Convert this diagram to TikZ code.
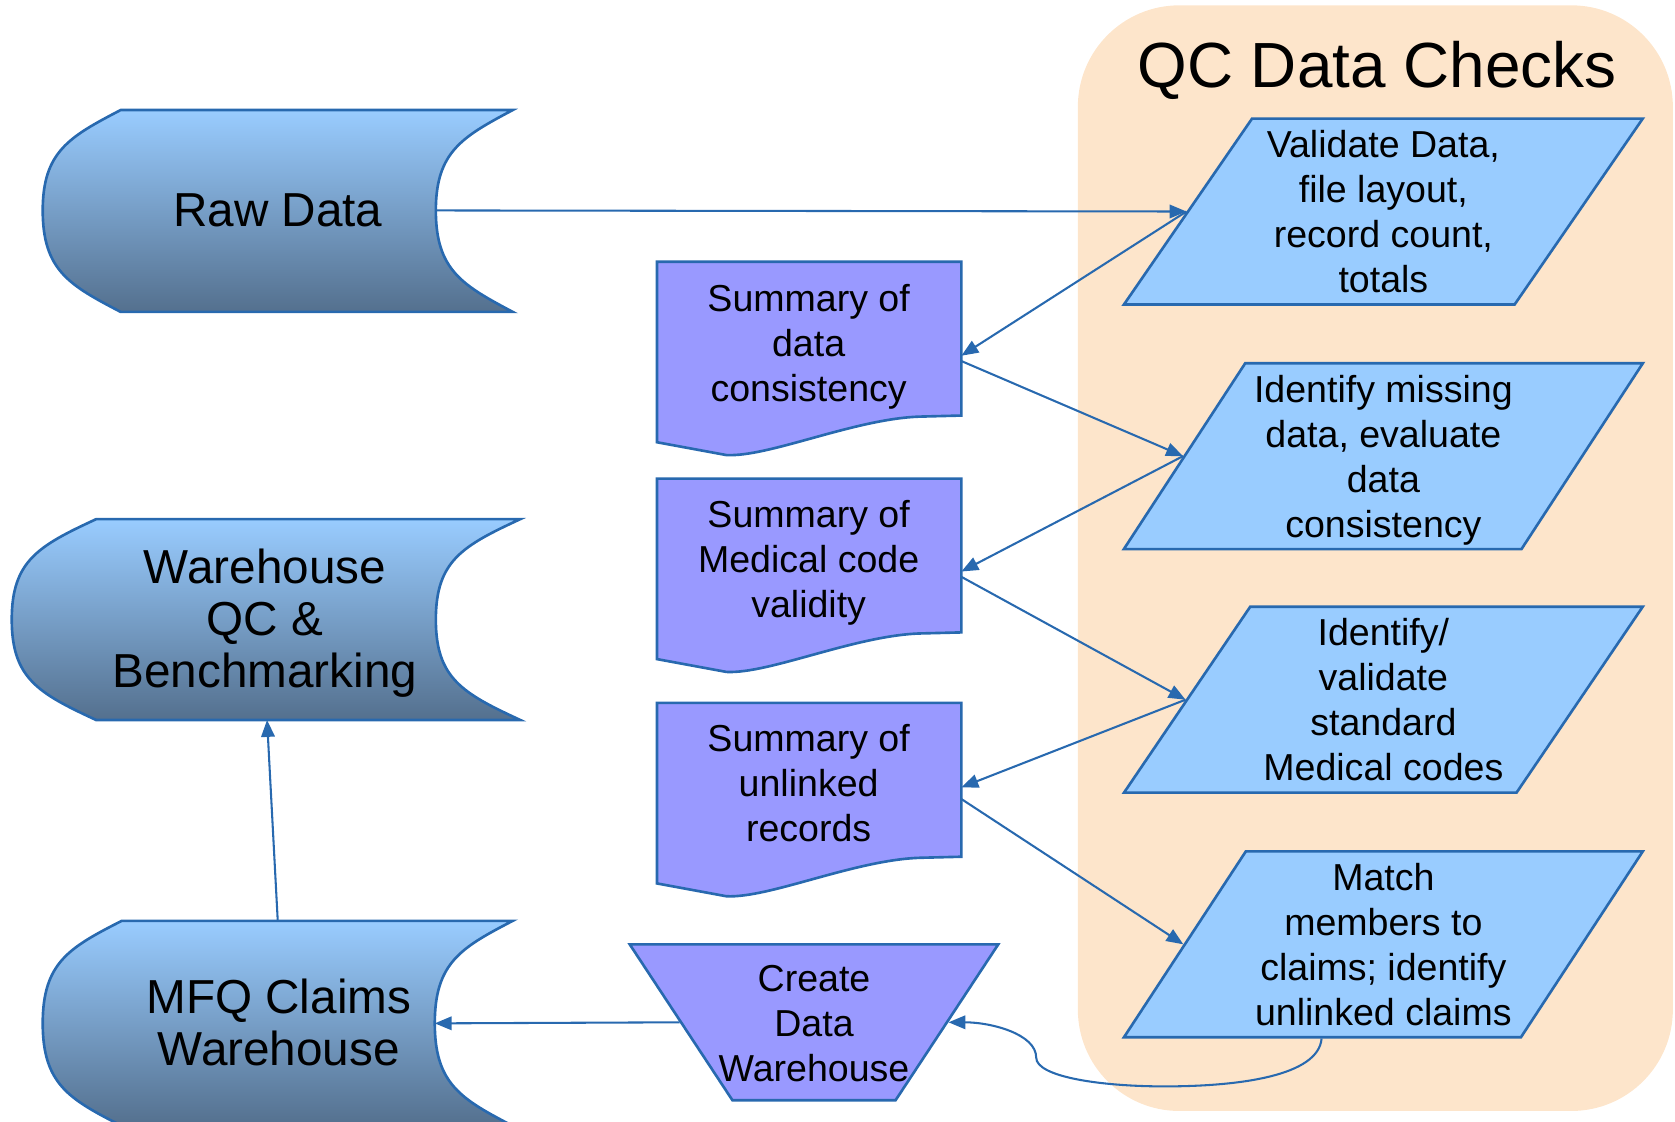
\documentclass[tikz,border=0pt]{standalone}
\usepackage{fontspec}
\setmainfont{Liberation Sans}
\usetikzlibrary{shapes.geometric,arrows.meta}

\definecolor{edge}{RGB}{40,105,175}
\definecolor{checkfill}{RGB}{153,204,255}
\definecolor{docfill}{RGB}{153,153,255}
\definecolor{qcback}{RGB}{253,229,203}
\definecolor{storetop}{RGB}{153,204,255}
\definecolor{storebot}{RGB}{84,112,142}

\tikzset{
  conn/.style={draw=edge, line width=0.55pt, -{Triangle[length=4.5pt,width=3.6pt]}},
  store/.style={draw=edge, line width=0.7pt, top color=storetop, bottom color=storebot},
  doc/.style={draw=edge, line width=0.7pt, fill=docfill},
  check/.style={trapezium, trapezium left angle=55, trapezium right angle=125,
    trapezium stretches=true, minimum width=48.6mm, minimum height=17.4mm,
    inner sep=0pt, text depth=0pt, draw=edge, line width=0.7pt, fill=checkfill,
    align=center, font=\fontsize{10}{12}\selectfont},
  big/.style={align=center, text depth=0pt, font=\fontsize{12.7}{13.8}\selectfont},
  small/.style={align=center, text depth=0pt, font=\fontsize{10}{12}\selectfont},
}

\begin{document}
\begin{tikzpicture}[x=0.1mm, y=-0.1mm]
  \useasboundingbox (0,0) rectangle (1568,1050);

  % QC panel
  \fill[qcback, rounded corners=9.5mm] (1009,5) rectangle (1566,1040);
  \node[text depth=0pt, font=\fontsize{17}{20}\selectfont] (qctitle) at (1289,60) {QC Data Checks};

  % data stores
  \path[store] (113,103) -- (480,103) .. controls (433,128) and (408,142) .. (408,197)
    .. controls (408,253) and (433,267) .. (480,292) -- (113,292)
    .. controls (65,267) and (40,253) .. (40,197) .. controls (40,142) and (65,128) .. (113,103) -- cycle;
  \path[store] (90,486) -- (487,486) .. controls (433,511) and (408,525) .. (408,580)
    .. controls (408,635) and (433,649) .. (487,674) -- (90,674)
    .. controls (36,649) and (11,635) .. (11,580) .. controls (11,525) and (36,511) .. (90,486) -- cycle;
  \path[store] (114,862) -- (480,862) .. controls (432,887) and (407,901) .. (407,958)
    .. controls (407,1015) and (432,1029) .. (480,1054) -- (114,1054)
    .. controls (65,1029) and (40,1015) .. (40,958) .. controls (40,901) and (65,887) .. (114,862) -- cycle;
  \node[big] (raw) at (260,197) {Raw Data};
  \node[big] (whqc) at (248,579) {Warehouse\\QC \&\\Benchmarking};
  \node[big] (mfq) at (261,957) {MFQ Claims\\Warehouse};
  \coordinate (rawport) at (408,197);
  \coordinate (whqcport) at (250,674);
  \coordinate (mfqtop) at (260,862);
  \coordinate (mfqport) at (407,958);

  % summary documents
  \filldraw[doc] (615,245) -- (900,245) -- (900,389) -- (861,390)
    .. controls (800,392) and (720,428) .. (680,426) -- (615,414) -- cycle;
  \filldraw[doc, shift={(0,203)}] (615,245) -- (900,245) -- (900,389) -- (861,390)
    .. controls (800,392) and (720,428) .. (680,426) -- (615,414) -- cycle;
  \filldraw[doc, shift={(0,413)}] (615,245) -- (900,245) -- (900,389) -- (861,390)
    .. controls (800,392) and (720,428) .. (680,426) -- (615,414) -- cycle;
  \node[small] (sum1) at (757,321) {Summary of\\data\\consistency};
  \node[small] (sum2) at (757,523) {Summary of\\Medical code\\validity};
  \node[small] (sum3) at (757,733) {Summary of\\unlinked\\records};
  \coordinate (sum1in) at (900,333);
  \coordinate (sum1out) at (900,338);
  \coordinate (sum2in) at (900,535);
  \coordinate (sum2out) at (900,540);
  \coordinate (sum3in) at (900,737);
  \coordinate (sum3out) at (900,748);

  % checks
  \node[check] (chk1) at (1295,198) {Validate Data,\\file layout,\\record count,\\totals};
  \node[check] (chk2) at (1295,427) {Identify missing\\data, evaluate\\data\\consistency};
  \node[check] (chk3) at (1295,655) {Identify/\\validate\\standard\\Medical codes};
  \node[check] (chk4) at (1295,884) {Match\\members to\\claims; identify\\unlinked claims};

  % build step
  \node[trapezium, trapezium left angle=120.8, trapezium right angle=120.8,
    trapezium stretches=true, minimum width=34.5mm, minimum height=14.6mm,
    inner sep=0pt, draw=edge, line width=0.7pt, fill=docfill] (build) at (762,957) {\phantom{x}};
  \node[small] (buildtxt) at (762,958) {Create\\Data\\Warehouse};

  % flow
  \draw[conn] (rawport) -- (chk1.left side);
  \draw[conn] (chk1.left side) -- (sum1in);
  \draw[conn] (sum1out) -- (chk2.left side);
  \draw[conn] (chk2.left side) -- (sum2in);
  \draw[conn] (sum2out) -- (chk3.left side);
  \draw[conn] (chk3.left side) -- (sum3in);
  \draw[conn] (sum3out) -- (chk4.left side);
  \coordinate (loopdip) at (1090,1017);
  \coordinate (loopkink) at (970,990);
  \draw[conn] (chk4.bottom side) .. controls +(-3,35) and +(70,0) .. (loopdip)
    .. controls +(-60,0) and +(0,18) .. (loopkink)
    .. controls +(0,-22) and +(40,0) .. (build.right side);
  \draw[conn] (build.left side) -- (mfqport);
  \draw[conn] (mfqtop) -- (whqcport);
\end{tikzpicture}
\end{document}
